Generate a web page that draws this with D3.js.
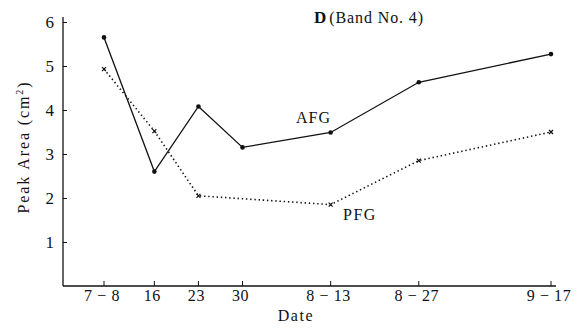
<!DOCTYPE html>
<html>
<head>
<meta charset="utf-8">
<script src="https://cdn.jsdelivr.net/npm/d3@7"></script>
<style>
  html, body { margin: 0; padding: 0; background: #fff; }
  svg text { font-family: 'Liberation Serif', 'DejaVu Serif', serif; fill: #111; }
</style>
</head>
<body>
<svg id="chart" width="577" height="332"></svg>
<script>
// sampling dates (1983 season) and their axis labels
const dates = ['1983-07-08', '1983-07-16', '1983-07-23', '1983-07-30', '1983-08-13', '1983-08-27', '1983-09-17'];
const dateLabels = ['7 \u2212 8', '16', '23', '30', '8 \u2212 13', '8 \u2212 27', '9 \u2212 17'];
const afgValues = [5.65, 2.6, 4.08, 3.15, 3.49, 4.63, 5.27];
const pfgValues = [4.93, 3.52, 2.05, null, 1.85, 2.85, 3.5];
const yTicks = [1, 2, 3, 4, 5, 6];

const svg = d3.select('#chart');
const parse = d3.timeParse('%Y-%m-%d');
const xDates = dates.map(parse);

const xScale = d3.scaleTime()
  .domain([xDates[0], xDates[xDates.length - 1]])
  .range([104, 551]);

const yScale = d3.scaleLinear()
  .domain([0, 6])
  .range([286, 22]);

// X axis (ticks point up, inside)
const xAxisGroup = svg.append('g')
  .attr('transform', `translate(0, ${yScale(0)})`);
xAxisGroup.append('line')
  .attr('x1', 63).attr('x2', 556)
  .attr('y1', 0).attr('y2', 0)
  .attr('stroke', '#111').attr('stroke-width', 1.3);
xAxisGroup.selectAll('line.tick')
  .data(xDates)
  .join('line')
  .attr('class', 'tick')
  .attr('x1', d => xScale(d)).attr('x2', d => xScale(d))
  .attr('y1', 0).attr('y2', -5)
  .attr('stroke', '#111').attr('stroke-width', 1);
xAxisGroup.selectAll('text.tick-label')
  .data(xDates)
  .join('text')
  .attr('class', 'tick-label')
  .attr('x', d => xScale(d) - 2)
  .attr('y', 15)
  .attr('text-anchor', 'middle')
  .attr('font-size', '16px')
  .attr('letter-spacing', '0.6px')
  .text((d, i) => dateLabels[i]);

svg.append('text')
  .attr('x', 296).attr('y', 321)
  .attr('text-anchor', 'middle')
  .attr('font-size', '16px')
  .attr('letter-spacing', '1.6px')
  .text('Date');

// Y axis (ticks point right, inside)
const yAxis = d3.axisRight(yScale)
  .tickValues(yTicks)
  .tickSize(4)
  .tickSizeOuter(0)
  .tickFormat(d3.format('d'));
const yAxisGroup = svg.append('g')
  .attr('transform', 'translate(63, 0)')
  .call(yAxis);
yAxisGroup.select('path.domain')
  .attr('stroke', '#111').attr('stroke-width', 1.3)
  .attr('d', `M0,${yScale(6) - 5}V${yScale(0)}`);
yAxisGroup.selectAll('line').attr('stroke', '#111');
yAxisGroup.selectAll('text')
  .attr('x', -9)
  .attr('text-anchor', 'end')
  .attr('font-size', '17px')
  .attr('font-family', "'Liberation Serif', serif")
  .attr('fill', '#111');

svg.append('text')
  .attr('transform', 'translate(29, 147) rotate(-90)')
  .attr('text-anchor', 'middle')
  .attr('font-size', '16px')
  .attr('letter-spacing', '1.9px')
  .html('Peak Area (cm<tspan font-size="10px" dy="-6">2</tspan><tspan dy="6">)</tspan>');

// title
const title = svg.append('text')
  .attr('x', 314).attr('y', 23)
  .attr('font-size', '16px')
  .attr('letter-spacing', '0.9px');
title.append('tspan').attr('font-weight', 'bold').attr('font-size', '17px').text('D');
title.append('tspan').attr('dx', 2).text('(Band No. 4)');

// AFG series: solid line with dots
const afgData = xDates.map((d, i) => ({ date: d, value: afgValues[i] }));
const line = d3.line()
  .defined(d => d.value != null)
  .x(d => xScale(d.date))
  .y(d => yScale(d.value));

svg.append('path')
  .datum(afgData)
  .attr('d', line)
  .attr('fill', 'none')
  .attr('stroke', '#111')
  .attr('stroke-width', 1.3);
svg.selectAll('circle.afg')
  .data(afgData)
  .join('circle')
  .attr('class', 'afg')
  .attr('cx', d => xScale(d.date))
  .attr('cy', d => yScale(d.value))
  .attr('r', 2.3)
  .attr('fill', '#111');

// PFG series: dotted line with small crosses (30 missing)
const pfgData = xDates.map((d, i) => ({ date: d, value: pfgValues[i] }))
  .filter(d => d.value != null);
svg.append('path')
  .datum(pfgData)
  .attr('d', line)
  .attr('fill', 'none')
  .attr('stroke', '#111')
  .attr('stroke-width', 1.6)
  .attr('stroke-dasharray', '1.4,2.8');
svg.selectAll('path.pfg')
  .data(pfgData)
  .join('path')
  .attr('class', 'pfg')
  .attr('d', d => {
    const x = xScale(d.date), y = yScale(d.value), s = 2;
    return `M${x - s},${y - s}L${x + s},${y + s}M${x - s},${y + s}L${x + s},${y - s}`;
  })
  .attr('stroke', '#111')
  .attr('stroke-width', 1.2);

// series labels
svg.append('text')
  .attr('x', 296).attr('y', 123)
  .attr('font-size', '16px')
  .attr('letter-spacing', '1px')
  .text('AFG');
svg.append('text')
  .attr('x', 343).attr('y', 220)
  .attr('font-size', '16px')
  .attr('letter-spacing', '1.5px')
  .text('PFG');
</script>
</body>
</html>
